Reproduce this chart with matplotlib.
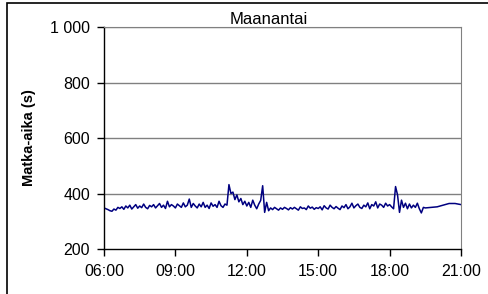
import matplotlib
matplotlib.use("Agg")
import matplotlib.pyplot as plt
from matplotlib.patches import Rectangle
import numpy as np

plt.rcParams['font.family'] = ['Liberation Sans', 'DejaVu Sans']

title = "Maanantai"
ylabel = "Matka-aika (s)"
xtick_hours = [6, 9, 12, 15, 18, 21]
xtick_labels = ["06:00", "09:00", "12:00", "15:00", "18:00", "21:00"]
ytick_values = [200, 400, 600, 800, 1000]
ytick_labels = ["200", "400", "600", "800", "1 000"]

# 5-minute travel times from 06:00 to 19:20
travel_5min = [
    348, 345, 342, 338, 336, 344, 340, 350, 346, 352, 343, 355,
    348, 358, 344, 352, 360, 347, 355, 349, 362, 350, 345, 357,
    352, 360, 348, 356, 364, 350, 358, 346, 372, 352, 360, 355,
    348, 362, 356, 350, 366, 352, 358, 380, 350, 364, 355, 348,
    362, 352, 368, 350, 358, 346, 366, 354, 360, 350, 372, 356,
    350, 362, 358, 432, 400, 405, 378, 395, 370, 382, 360, 372,
    355, 368, 350, 376, 358, 345, 362, 375, 428, 332, 368, 338,
    348, 342, 350, 345, 340, 348, 343, 350, 346, 341, 349, 344,
    350, 345, 340, 352, 346, 348, 342, 355, 347, 351, 343, 349,
    346, 352, 341, 356, 348, 344, 358, 350, 345, 353, 347, 342,
    355, 349, 360, 345, 352, 365, 348, 356, 362, 350, 346, 358,
    352, 366, 345, 360, 355, 370, 348, 362, 358, 350, 365, 355,
    360, 352, 345, 425, 395, 332, 376, 350, 365, 345, 362, 348,
    358, 350, 365, 345, 330,
]
# sparse evening values
evening_hours = [19.42, 19.5, 19.75, 20.0, 20.17, 20.33, 20.5, 20.75, 21.0]
evening_values = [350, 348, 350, 352, 356, 360, 364, 364, 360]

hours = [6 + i / 12 for i in range(len(travel_5min))] + evening_hours
values = travel_5min + evening_values

fig = plt.figure(figsize=(4.89, 2.94), dpi=100)
ax = fig.add_axes([104 / 489, 1 - 249 / 294, (461 - 104) / 489, (249 - 27) / 294])

ax.plot(hours, values, color="#000080", linewidth=1.1)

ax.set_xlim(6, 21)
ax.set_ylim(200, 1000)
ax.set_xticks(xtick_hours)
ax.set_xticklabels(xtick_labels)
ax.set_yticks(ytick_values)
ax.set_yticklabels(ytick_labels)
ax.tick_params(labelsize=11.5, length=5, width=1, direction="out", color="black")
ax.tick_params(axis="x", pad=6)
ax.tick_params(axis="y", pad=5)
for y in ytick_values[1:]:
    ax.axhline(y, color="#808080", linewidth=1.0, zorder=0)

for s in ["top", "right"]:
    ax.spines[s].set_color("#808080")
for s in ["left", "bottom"]:
    ax.spines[s].set_color("black")
    ax.spines[s].set_linewidth(1.0)

ax.set_title(title, fontsize=12, pad=2, x=0.461)
ax.set_ylabel(ylabel, fontsize=10.5, fontweight="bold", labelpad=10)

fig.patches.append(Rectangle((7 / 489, -0.02), 1.0, 1 - 3 / 294 + 0.02,
                             transform=fig.transFigure, fill=False,
                             edgecolor="black", linewidth=1.2))

fig.savefig("out.png", dpi=100)
